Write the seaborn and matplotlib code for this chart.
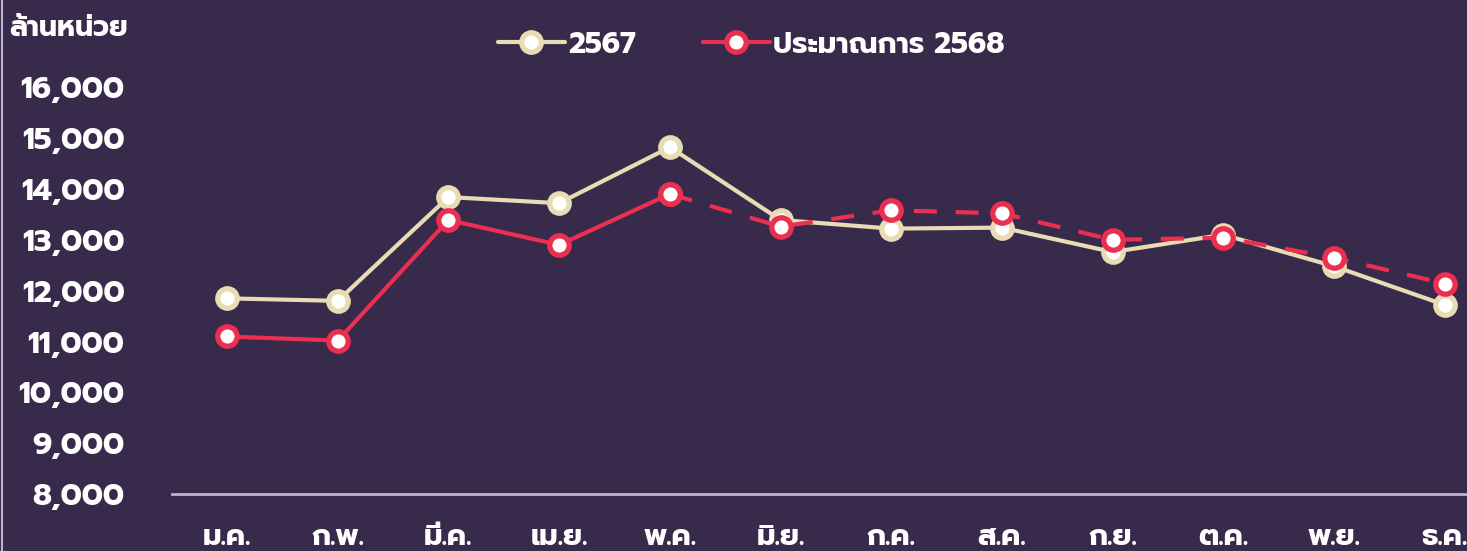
import matplotlib
matplotlib.use("Agg")
import numpy as np
import pandas as pd
import matplotlib.pyplot as plt
import seaborn as sns
from matplotlib import font_manager
from matplotlib.lines import Line2D
from matplotlib.ticker import FuncFormatter

# ข้อมูล (ล้านหน่วย)
months = ["ม.ค.", "ก.พ.", "มี.ค.", "เม.ย.", "พ.ค.", "มิ.ย.",
          "ก.ค.", "ส.ค.", "ก.ย.", "ต.ค.", "พ.ย.", "ธ.ค."]
actual_2567 = [11850, 11800, 13840, 13720, 14820, 13390,
               13220, 13240, 12760, 13100, 12480, 11720]
forecast_2568 = [11100, 11020, 13390, 12900, 13900, 13260,
                 13580, 13520, 13000, 13040, 12650, 12140]
n_actual_2568 = 5  # ม.ค.-พ.ค. เส้นทึบ ที่เหลือเส้นประ

# หาฟอนต์ไทย
names = {f.name for f in font_manager.fontManager.ttflist}
thai_font = next((n for n in ["Prompt", "Kanit", "Mitr", "Chakra Petch", "Bai Jamjuree"] if n in names), "DejaVu Sans")

BG = "#382a4b"
BEIGE = "#e9dcb4"
RED = "#ec2f50"

sns.set_theme(style="white")
plt.rcParams["font.family"] = [thai_font, "DejaVu Sans"]
plt.rcParams["font.weight"] = "bold"

df = pd.DataFrame({"idx": np.arange(len(months)), "month": months,
                   "y2567": actual_2567, "y2568": forecast_2568})

fig = plt.figure(figsize=(14.67, 5.51), dpi=100, facecolor=BG)
ax = fig.add_axes([0.117, 0.103, 0.883, 0.785])
ax.set_facecolor(BG)

mk = dict(marker="o", markersize=14, markerfacecolor="white", markeredgewidth=3.8)

sns.lineplot(data=df, x="idx", y="y2567", ax=ax, color=BEIGE, linewidth=3,
             markeredgecolor=BEIGE, zorder=3, **mk)
solid = df[df["idx"] < n_actual_2568]
dashed = df[df["idx"] >= n_actual_2568 - 1]
sns.lineplot(data=solid, x="idx", y="y2568", ax=ax, color=RED, linewidth=3,
             markeredgecolor=RED, zorder=4, **mk)
sns.lineplot(data=dashed, x="idx", y="y2568", ax=ax, color=RED, linewidth=3,
             markeredgecolor=RED, zorder=4, **mk)
ax.lines[-1].set_dashes([5.5, 4.5])

ax.set_xlim(-0.5, 11.2)
ax.set_ylim(8000, 16500)
ax.set_yticks(np.arange(8000, 16001, 1000))
ax.yaxis.set_major_formatter(FuncFormatter(lambda v, p: f"{int(v):,}"))
ax.set_xticks(df["idx"])
ax.set_xticklabels(months)
ax.set_xlabel("")
ax.set_ylabel("")
ax.tick_params(axis="y", length=0, pad=34, labelsize=22, labelcolor="white")
ax.tick_params(axis="x", length=0, pad=21, labelsize=21, labelcolor="white")
for lab in ax.get_xticklabels() + ax.get_yticklabels():
    lab.set_fontweight("bold")

for s in ["top", "right", "left"]:
    ax.spines[s].set_visible(False)
ax.spines["bottom"].set_color("#bdb4cc")
ax.spines["bottom"].set_linewidth(2)

fig.text(0.006, 0.948, "ล้านหน่วย", color="white", fontsize=20.5,
         fontweight="bold", va="center", ha="left")

handles = [
    Line2D([], [], color=BEIGE, linewidth=3, markeredgecolor=BEIGE, **mk),
    Line2D([], [], color=RED, linewidth=3, markeredgecolor=RED, **mk),
]
leg = fig.legend(handles, ["2567", "ประมาณการ 2568"], loc="center",
                 bbox_to_anchor=(0.512, 0.918), ncol=2, frameon=False,
                 handlelength=2.3, columnspacing=2.3, handletextpad=0.1,
                 prop={"size": 21, "weight": "bold"})
for t in leg.get_texts():
    t.set_color("white")

fig.add_artist(Line2D([0.0015, 0.0015], [0, 1], color="#bdb4cc", linewidth=1.5,
                      transform=fig.transFigure))

fig.savefig("out.png", facecolor=BG)
